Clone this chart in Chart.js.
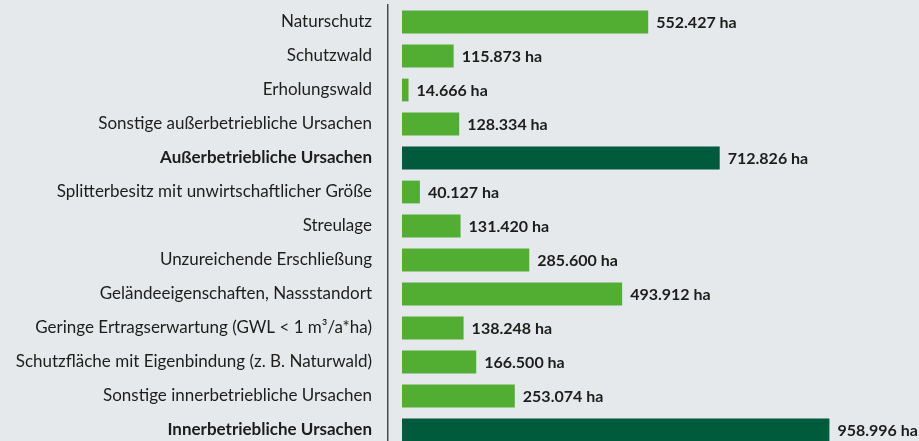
<!DOCTYPE html>
<html>
<head>
<meta charset="utf-8">
<script src="https://cdn.jsdelivr.net/npm/chart.js@4"></script>
<style>
  html, body { margin: 0; padding: 0; background: #e6e9ec; overflow: hidden; }
  #wrap { width: 919px; height: 447px; }
</style>
</head>
<body>
<div id="wrap"><canvas id="c" width="919" height="447"></canvas></div>
<script>
const categories = [
  "Naturschutz",
  "Schutzwald",
  "Erholungswald",
  "Sonstige außerbetriebliche Ursachen",
  "Außerbetriebliche Ursachen",
  "Splitterbesitz mit unwirtschaftlicher Größe",
  "Streulage",
  "Unzureichende Erschließung",
  "Geländeeigenschaften, Nassstandort",
  "Geringe Ertragserwartung (GWL < 1 m³/a*ha)",
  "Schutzfläche mit Eigenbindung (z. B. Naturwald)",
  "Sonstige innerbetriebliche Ursachen",
  "Innerbetriebliche Ursachen"
];
const areaHa = [552427, 115873, 14666, 128334, 712826, 40127, 131420, 285600, 493912, 138248, 166500, 253074, 958996];
const isTotal = [false, false, false, false, true, false, false, false, false, false, false, false, true];
const unit = "ha";

const FONT = "Lato, 'Open Sans', sans-serif";
const LIGHT = "#52ae32";
const DARK = "#005a3c";
const TEXT = "#1d1d1b";

function fmt(v) {
  return String(v).replace(/\B(?=(\d{3})+(?!\d))/g, ".") + " " + unit;
}

const valueLabels = {
  id: "valueLabels",
  afterDatasetsDraw(chart) {
    const ctx = chart.ctx;
    const meta = chart.getDatasetMeta(0);
    ctx.save();
    ctx.font = "bold 16px " + FONT;
    ctx.fillStyle = TEXT;
    ctx.textAlign = "left";
    ctx.textBaseline = "middle";
    meta.data.forEach((bar, i) => {
      ctx.fillText(fmt(areaHa[i]), bar.x + 8, bar.y + 1);
    });
    ctx.restore();
  }
};

new Chart(document.getElementById("c"), {
  type: "bar",
  data: {
    labels: categories,
    datasets: [{
      data: areaHa,
      backgroundColor: isTotal.map(t => t ? DARK : LIGHT),
      borderWidth: 0,
      barPercentage: 0.67,
      categoryPercentage: 1
    }]
  },
  options: {
    indexAxis: "y",
    responsive: false,
    animation: false,
    devicePixelRatio: 1,
    layout: { padding: { top: 5, left: 0, right: 0, bottom: 0 } },
    plugins: { legend: { display: false }, tooltip: { enabled: false } },
    scales: {
      x: {
        display: false,
        min: -31400,
        max: 1160000
      },
      y: {
        afterFit(s) { s.width = 388; s.paddingTop = 0; s.paddingBottom = 0; },
        grid: { display: false, drawTicks: false },
        border: { display: true, color: "#4a4a4a", width: 1.5 },
        ticks: {
          padding: 16,
          color: TEXT,
          font: (c) => ({ family: FONT, size: 17, weight: isTotal[c.index] ? "bold" : "normal" })
        }
      }
    }
  },
  plugins: [valueLabels]
});
</script>
</body>
</html>
